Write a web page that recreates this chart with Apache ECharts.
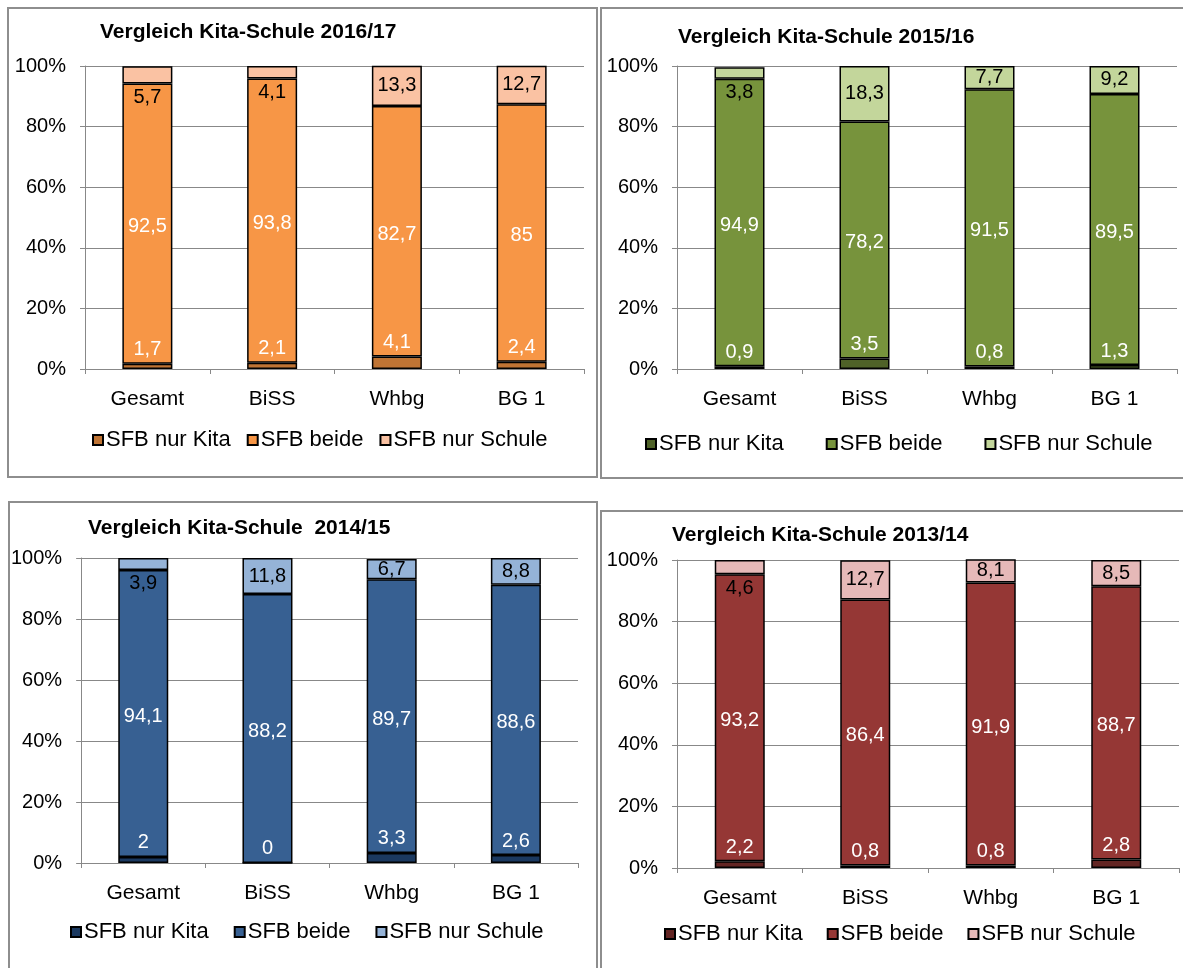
<!DOCTYPE html>
<html>
<head>
<meta charset="utf-8">
<script src="https://cdn.jsdelivr.net/npm/echarts@6/dist/echarts.min.js"></script>
<style>
  html, body { margin: 0; padding: 0; background: #fff; width: 1183px; height: 968px; overflow: hidden; }
  .frame { position: absolute; box-sizing: border-box; border: 2px solid #8e8e8e; background: #fff; }
  .chart { position: absolute; }
</style>
</head>
<body>
<div class="frame" style="left:7px;top:7px;width:591px;height:471px"></div>
<div class="frame" style="left:600px;top:7px;width:620px;height:472px"></div>
<div class="frame" style="left:8px;top:501px;width:590px;height:500px"></div>
<div class="frame" style="left:600px;top:510px;width:620px;height:500px"></div>

<div class="chart" id="c1617" style="left:7px;top:7px;width:591px;height:471px"></div>
<div class="chart" id="c1516" style="left:600px;top:7px;width:583px;height:472px"></div>
<div class="chart" id="c1415" style="left:8px;top:501px;width:590px;height:467px"></div>
<div class="chart" id="c1314" style="left:600px;top:510px;width:583px;height:458px"></div>

<script>
// Categories and series shared by all four school years
const categories = ['Gesamt', 'BiSS', 'Whbg', 'BG 1'];
const seriesNames = ['SFB nur Kita', 'SFB beide', 'SFB nur Schule'];
const yTickValues = [0, 20, 40, 60, 80, 100];

// 2016/17
const kita1617   = [1.7, 2.1, 4.1, 2.4];
const beide1617  = [92.5, 93.8, 82.7, 85];
const schule1617 = [5.7, 4.1, 13.3, 12.7];

// 2015/16
const kita1516   = [0.9, 3.5, 0.8, 1.3];
const beide1516  = [94.9, 78.2, 91.5, 89.5];
const schule1516 = [3.8, 18.3, 7.7, 9.2];

// 2014/15
const kita1415   = [2, 0, 3.3, 2.6];
const beide1415  = [94.1, 88.2, 89.7, 88.6];
const schule1415 = [3.9, 11.8, 6.7, 8.8];

// 2013/14
const kita1314   = [2.2, 0.8, 0.8, 2.8];
const beide1314  = [93.2, 86.4, 91.9, 88.7];
const schule1314 = [4.6, 12.7, 8.1, 8.5];

const FONT = '"Liberation Sans", Arial, "DejaVu Sans", sans-serif';
const GRID_COLOR = '#888888';

const panels = [
  {
    el: 'c1617', title: 'Vergleich Kita-Schule 2016/17',
    values: [kita1617, beide1617, schule1617],
    colors: ['#BF7434', '#F79646', '#FAC2A3'],
    grid: { left: 78, top: 59, width: 499, height: 303 },
    titlePos: { left: 93, top: 15 },
    legend: { left: 85, top: 422, gap: 16 }
  },
  {
    el: 'c1516', title: 'Vergleich Kita-Schule 2015/16',
    values: [kita1516, beide1516, schule1516],
    colors: ['#4F6228', '#77933C', '#C3D69B'],
    grid: { left: 77, top: 59, width: 500, height: 303 },
    titlePos: { left: 78, top: 20 },
    legend: { left: 45, top: 426, gap: 42 }
  },
  {
    el: 'c1415', title: 'Vergleich Kita-Schule  2014/15',
    values: [kita1415, beide1415, schule1415],
    colors: ['#1B3960', '#376092', '#95B3D7'],
    grid: { left: 70, top: 57, width: 500, height: 305 },
    titlePos: { left: 80, top: 17 },
    legend: { left: 62, top: 420, gap: 25 }
  },
  {
    el: 'c1314', title: 'Vergleich Kita-Schule 2013/14',
    values: [kita1314, beide1314, schule1314],
    colors: ['#632523', '#953735', '#E6B9B8'],
    grid: { left: 77, top: 50, width: 502, height: 308 },
    titlePos: { left: 72, top: 15 },
    legend: { left: 64, top: 413, gap: 24 }
  }
];

const fmt = v => String(v).replace('.', ',');

function buildOption(p) {
  const [kita, beide, schule] = p.values;
  const barBase = {
    type: 'bar', stack: 'total', barWidth: 50,
    itemStyle: { borderColor: '#000', borderWidth: 1.5 }
  };
  const labelBase = { show: true, fontFamily: FONT, fontSize: 20, formatter: q => fmt(q.value) };
  return {
    animation: false,
    textStyle: { fontFamily: FONT },
    title: {
      text: p.title, left: p.titlePos.left, top: p.titlePos.top, padding: 0,
      textStyle: { fontFamily: FONT, fontSize: 21, fontWeight: 'bold', color: '#000' }
    },
    legend: {
      left: p.legend.left, top: p.legend.top, padding: 0,
      itemWidth: 10, itemHeight: 10, itemGap: p.legend.gap, icon: 'rect',
      textStyle: { fontFamily: FONT, fontSize: 22, color: '#000', padding: [0, 0, 0, -2] },
      data: seriesNames
    },
    grid: p.grid,
    xAxis: {
      type: 'category', data: categories,
      axisLine: { lineStyle: { color: GRID_COLOR, width: 1 } },
      axisTick: { show: true, length: 5, lineStyle: { color: GRID_COLOR } },
      axisLabel: { fontFamily: FONT, fontSize: 21, color: '#000', margin: 20 }
    },
    yAxis: {
      type: 'value', min: yTickValues[0], max: yTickValues[yTickValues.length - 1],
      interval: yTickValues[1] - yTickValues[0],
      axisLine: { show: true, lineStyle: { color: GRID_COLOR, width: 1 } },
      axisTick: { show: true, length: 5, lineStyle: { color: GRID_COLOR } },
      axisLabel: { fontFamily: FONT, fontSize: 20, color: '#000', margin: 19, formatter: '{value}%' },
      splitLine: { lineStyle: { color: GRID_COLOR, width: 1 } }
    },
    series: [
      Object.assign({}, barBase, {
        name: seriesNames[0], data: kita, color: p.colors[0],
        label: Object.assign({}, labelBase, { position: 'top', distance: 4, color: '#fff' })
      }),
      Object.assign({}, barBase, {
        name: seriesNames[1], data: beide, color: p.colors[1],
        label: Object.assign({}, labelBase, { position: 'inside', offset: [0, 3], color: '#fff' })
      }),
      Object.assign({}, barBase, {
        name: seriesNames[2], color: p.colors[2],
        // small top segments carry their label just beneath them
        data: schule.map(v => ({ value: v, label: { position: v < 6 ? 'bottom' : 'inside' } })),
        label: Object.assign({}, labelBase, { position: 'inside', distance: 4, color: '#000' })
      })
    ]
  };
}

panels.forEach(p => {
  const chart = echarts.init(document.getElementById(p.el), null, { renderer: 'canvas' });
  chart.setOption(buildOption(p));
});
</script>
</body>
</html>
